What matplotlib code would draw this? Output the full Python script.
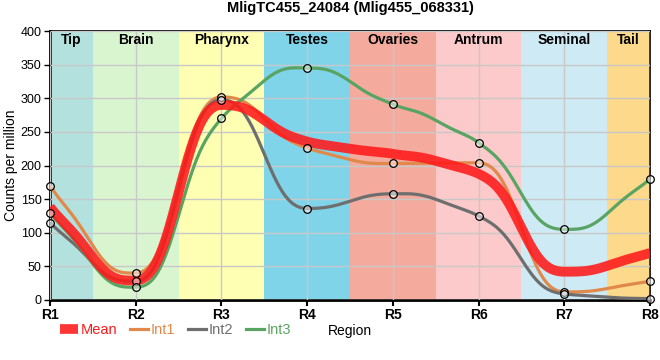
import numpy as np
import matplotlib
matplotlib.use("Agg")
import matplotlib.pyplot as plt
from matplotlib.lines import Line2D

plt.rcParams['font.family'] = ['Liberation Sans', 'DejaVu Sans']

regions = ["R1", "R2", "R3", "R4", "R5", "R6", "R7", "R8"]
int1 = [170, 40, 302, 226, 203, 204, 12, 28]
int2 = [115, 28, 298, 136, 158, 125, 9, 2]
int3 = [130, 19, 270, 345, 291, 234, 105, 180]

band_names = ["Tip", "Brain", "Pharynx", "Testes", "Ovaries", "Antrum", "Seminal", "Tail"]
band_edges = [1, 1.5, 2.5, 3.5, 4.5, 5.5, 6.5, 7.5, 8]
band_colors = ["#b3e2de", "#d9f5d0", "#ffffb3", "#80d4ea", "#f4ab9d", "#fccaca", "#ceeaf5", "#fdd98b"]


def sgn(v):
    return -1.0 if v < 0 else 1.0


def monotone(x, y, n=60):
    # d3.curveMonotoneX style slopes, with a slightly sharper blend between points
    x = np.asarray(x, float)
    y = np.asarray(y, float)
    h = np.diff(x)
    s = np.diff(y) / h
    m = np.zeros_like(y)
    for i in range(1, len(y) - 1):
        p = (s[i - 1] * h[i] + s[i] * h[i - 1]) / (h[i - 1] + h[i])
        m[i] = (sgn(s[i - 1]) + sgn(s[i])) * min(abs(s[i - 1]), abs(s[i]), 0.5 * abs(p))
    m[0] = (3 * s[0] - m[1]) / 2
    m[-1] = (3 * s[-1] - m[-2]) / 2
    xs_all, ys_all = [], []
    for i in range(len(x) - 1):
        t = np.linspace(0, 1, n)
        ss = 3 * t**2 - 2 * t**3
        blend = 0.5 * ss + 0.5 * (3 * ss**2 - 2 * ss**3)
        h10 = t**3 - 2 * t**2 + t
        h11 = t**3 - t**2
        xs_all.append(x[i] + t * h[i])
        ys_all.append(y[i] + (y[i + 1] - y[i]) * blend + h10 * h[i] * m[i] + h11 * h[i] * m[i + 1])
    return np.concatenate(xs_all), np.concatenate(ys_all)


x = np.arange(1, len(regions) + 1)
mean = (np.array(int1) + np.array(int2) + np.array(int3)) / 3

fig = plt.figure(figsize=(6.6, 3.6), dpi=100)
ax = fig.add_axes([50 / 660, 60 / 360, 600 / 660, 269 / 360])

for i, name in enumerate(band_names):
    ax.axvspan(band_edges[i], band_edges[i + 1], color=band_colors[i], lw=0, zorder=0)
    ax.text((band_edges[i] + band_edges[i + 1]) / 2, 387, name, ha="center", va="center",
            fontsize=10, fontweight="bold", zorder=5)

ax.grid(True, color="#c8c8c8", lw=1, zorder=1)
ax.set_axisbelow(False)
for gl in ax.get_xgridlines() + ax.get_ygridlines():
    gl.set_zorder(1)

series = [(int1, "#e0894a", "Int1"), (int2, "#6e6e6e", "Int2"), (int3, "#5aa463", "Int3")]
for vals, col, lab in series:
    xs, ys = monotone(x, vals)
    ax.plot(xs, ys, color=col, lw=2.3, zorder=3, solid_capstyle="butt")

xs, ys = monotone(x, mean)
ax.plot(xs, ys, color="#ff1a1a", lw=7, alpha=0.88, zorder=4, solid_capstyle="butt")

for vals, col, lab in series:
    ax.plot(x, vals, ls="none", marker="o", ms=5.5, mfc=(1, 1, 1, 0.5), mec="black",
            mew=0.9, zorder=6, clip_on=False)

ax.set_xlim(1, 8)
ax.set_ylim(0, 400)
ax.set_xticks(x)
ax.set_xticklabels(regions, fontweight="bold", fontsize=10)
ax.set_yticks(np.arange(0, 401, 50))
ax.tick_params(axis="y", labelsize=9, length=4, width=1, pad=2)
ax.tick_params(axis="x", length=4, width=1.5, pad=2)
ax.set_ylabel("Counts per million", fontsize=10, labelpad=2)
for s in ["left", "bottom"]:
    ax.spines[s].set_linewidth(2)
for s in ["top", "right"]:
    ax.spines[s].set_linewidth(1.2)

ax.set_title("MligTC455_24084 (Mlig455_068331)", fontsize=10.5, fontweight="bold", pad=14)

handles = [Line2D([], [], color="#ff1a1a", lw=7, alpha=0.88, solid_capstyle="butt")] + \
          [Line2D([], [], color=c, lw=2.3) for _, c, _ in series]
labels = ["Mean", "Int1", "Int2", "Int3"]
leg = fig.legend(handles, labels, loc="center left", bbox_to_anchor=(47 / 660, 1 - 330 / 360),
                 ncol=4, frameon=False, fontsize=10.5, handlelength=1.2, handletextpad=0.2,
                 columnspacing=0.9, labelcolor="linecolor")
fig.text(350 / 660, 1 - 331 / 360, "Region", ha="center", va="center", fontsize=10)

fig.savefig("out.png", dpi=100)
